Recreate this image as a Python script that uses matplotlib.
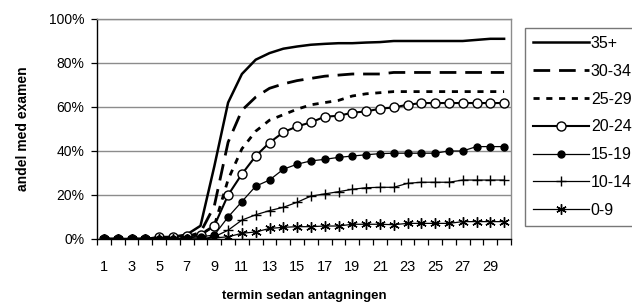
import matplotlib
matplotlib.use("Agg")
import matplotlib.pyplot as plt
from matplotlib.ticker import FuncFormatter

plt.rcParams['font.family'] = ['Liberation Sans', 'DejaVu Sans']

terms = list(range(1, 31))
tick_labels = [str(t) if t % 2 == 1 else "" for t in terms]

s35 = [0, 0, 0, 0, 0.5, 1, 2, 6, 33, 62, 75, 81.5, 84.5, 86.5, 87.5, 88.3, 88.7, 89, 89,
       89.3, 89.5, 90, 90, 90, 90, 90, 90, 90.5, 91, 91]
s30 = [0, 0, 0, 0, 0, 0.5, 1, 3, 15, 44, 58.5, 64.5, 68.5, 70.5, 72, 73, 74, 74.5, 75, 75,
       75, 75.7, 75.7, 75.7, 75.7, 75.7, 75.7, 75.7, 75.7, 75.7]
s25 = [0, 0, 0, 0, 0, 0.5, 1, 2, 6, 27, 41, 49, 54, 56.5, 59, 61, 62, 63, 65, 66,
       66.5, 67, 67, 67, 67, 67, 67, 67, 67, 67]
s20 = [0, 0, 0, 0, 1, 1, 1.3, 1.8, 6, 20, 29.5, 37.7, 43.8, 48.5, 51.2, 53, 55.6, 56, 57.4, 58,
       59.2, 59.8, 61, 61.8, 61.8, 61.8, 61.8, 61.8, 61.8, 61.8]
s15 = [0, 0, 0, 0, 0, 0, 0.5, 1, 1.8, 10, 17, 24, 26.8, 31.7, 34, 35.5, 36.2, 37.1, 37.7, 38.3,
       38.8, 39, 39, 39, 39, 40, 40, 42, 42, 42]
s10 = [0, 0, 0, 0, 0, 0, 0, 0, 1, 4, 8.6, 11, 12.9, 14.4, 16.7, 19.5, 20.5, 21.5, 22.6, 23.3,
       23.5, 23.5, 25.3, 25.8, 25.8, 25.8, 26.8, 26.8, 26.8, 26.8]
s0 = [0, 0, 0, 0, 0, 0, 0, 0, 0.5, 1, 2.6, 3.2, 4.8, 5.3, 5.6, 5.6, 5.9, 5.9, 6.7, 6.7,
      6.7, 6.5, 7.1, 7.1, 7.1, 7.1, 7.9, 7.9, 7.9, 7.9]

labels = ["35+", "30-34", "25-29", "20-24", "15-19", "10-14", "0-9"]

fig = plt.figure(figsize=(6.32, 3.04), dpi=100)
ax = fig.add_axes([97/632, 1-239/304, (511-97)/632, (239-19)/304])

ax.plot(terms, s35, color='black', lw=1.8, label=labels[0], zorder=3)
ax.plot(terms, s30, color='black', lw=2.0, dashes=(6, 3.2), label=labels[1], zorder=3)
ax.plot(terms, s25, color='black', lw=2.0, dashes=(2.2, 2.4), label=labels[2], zorder=3)
ax.plot(terms, s20, color='black', lw=1.5, marker='o', ms=6.5, mfc='white', mec='black',
        mew=1.0, label=labels[3], zorder=3)
ax.plot(terms, s15, color='black', lw=0.9, marker='o', ms=5, mfc='black', mec='black',
        label=labels[4], zorder=3)
ax.plot(terms, s10, color='black', lw=0.9, marker='+', ms=7, mew=1.0, label=labels[5], zorder=3)
ax.plot(terms, s0, color='black', lw=0.9, marker=(6, 2, 0), ms=7.5, mew=1.0, label=labels[6], zorder=3)

ax.set_xlim(0.5, 30.5)
ax.set_ylim(0, 100)
ax.set_yticks([0, 20, 40, 60, 80, 100])
ax.yaxis.set_major_formatter(FuncFormatter(lambda v, p: f"{v:.0f}%"))
ax.yaxis.grid(True, color='#8c8c8c', lw=1.0)
ax.set_axisbelow(True)

ax.set_xticks(terms)
ax.set_xticklabels(tick_labels)
ax.set_xticks([t - 0.5 for t in terms] + [30.5], minor=True)
ax.tick_params(axis='x', which='major', length=0, pad=15, labelsize=10.5)
ax.tick_params(axis='x', which='minor', length=4, width=0.9, direction='out')
ax.tick_params(axis='y', which='major', length=4, width=0.9, pad=5, labelsize=10)

for s in ['top', 'right']:
    ax.spines[s].set_color('#8c8c8c')
    ax.spines[s].set_linewidth(1.0)
for s in ['left', 'bottom']:
    ax.spines[s].set_color('black')
    ax.spines[s].set_linewidth(1.0)

ax.set_ylabel("andel med examen", fontsize=10, fontweight='bold', labelpad=14)
ax.set_xlabel("termin sedan antagningen", fontsize=9.5, fontweight='bold', labelpad=12)

leg = ax.legend(loc='upper left', bbox_to_anchor=(525/632, 1-28/304),
                bbox_transform=fig.transFigure, borderaxespad=0, frameon=True,
                fancybox=False, edgecolor='#555555', fontsize=11.5, handlelength=3.5,
                handletextpad=0.12, labelspacing=0.8, borderpad=0.5)
leg.get_frame().set_linewidth(1.0)

fig.savefig("out.png", dpi=100)
